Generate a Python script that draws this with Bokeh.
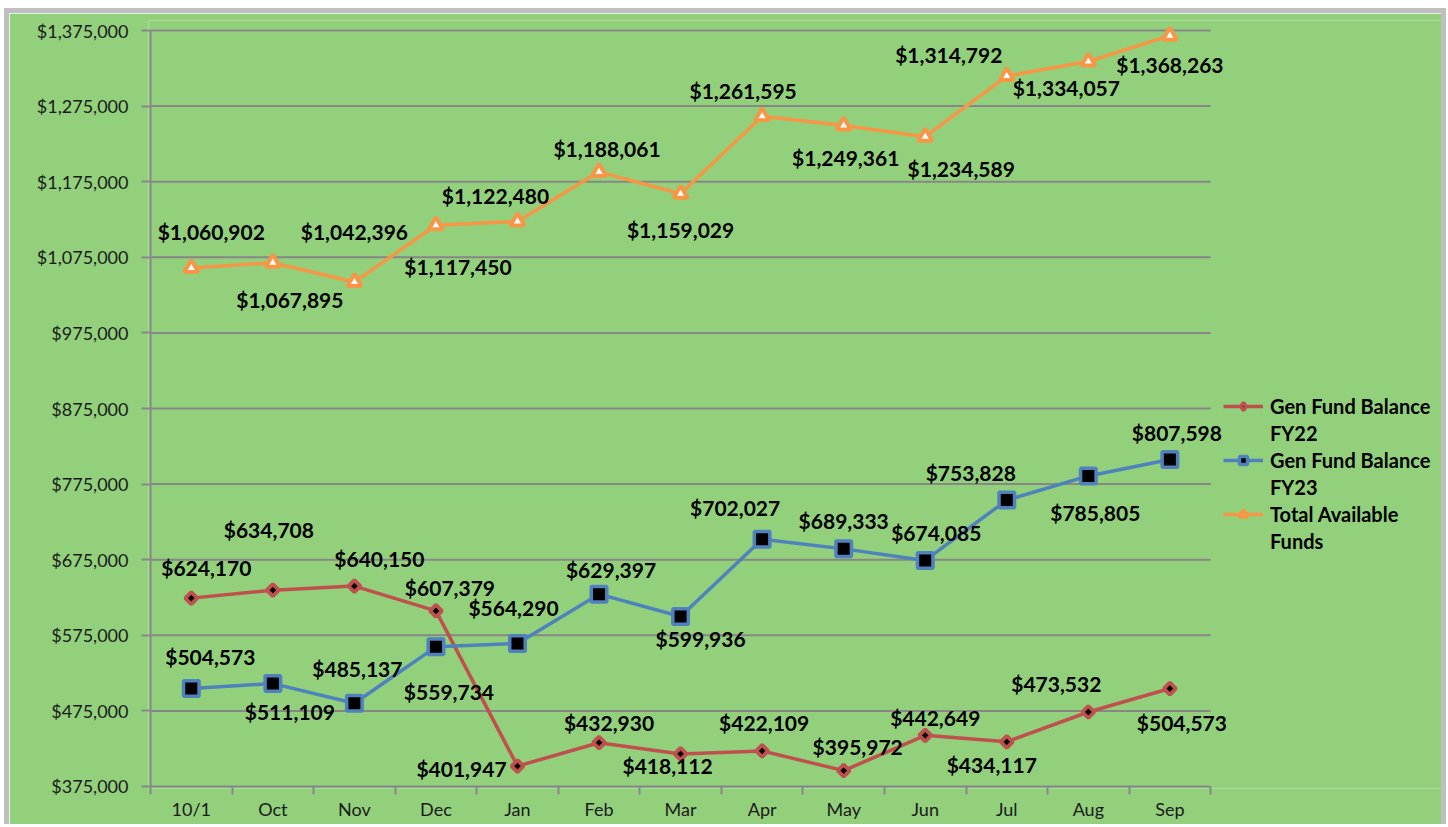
import math
from bokeh.plotting import figure
from bokeh.models import (ColumnDataSource, FixedTicker, NumeralTickFormatter, Legend,
                          LegendItem, Range1d, LabelSet)
from bokeh.core.properties import value
from bokeh.embed import file_html
from bokeh.resources import INLINE

# ---------------- data ----------------
months = ["10/1", "Oct", "Nov", "Dec", "Jan", "Feb", "Mar", "Apr", "May", "Jun", "Jul", "Aug", "Sep"]
fy22 = [624170, 634708, 640150, 607379, 401947, 432930, 418112, 422109, 395972, 442649, 434117, 473532, 504573]
fy23 = [504573, 511109, 485137, 559734, 564290, 629397, 599936, 702027, 689333, 674085, 753828, 785805, 807598]
total = [1060902, 1067895, 1042396, 1117450, 1122480, 1188061, 1159029, 1261595, 1249361, 1234589,
         1314792, 1334057, 1368263]
y_ticks = [375000, 475000, 575000, 675000, 775000, 875000, 975000, 1075000, 1175000, 1275000, 1375000]

# data-label placement (screen px, dy positive = downward)
fy22_dx = [15, -4, 25, 14, -56, 10, -13, 2, 14, 10, -15, -32, 12]
fy22_dy = [-31, -61, -28, -23, 2, -20, 12, -28, -24, -18, 23, -29, 34]
fy23_dx = [19, 17, 3, 13, -4, 12, 20, -27, 0, 11, -36, 7, 7]
fy23_dy = [-32, 28, -35, 45, -36, -25, 22, -32, -28, -28, -28, 37, -27]
tot_dx = [20, 17, 0, 22, -22, 8, 0, -19, 2, 36, -58, -22, 0]
tot_dy = [-36, 37, -50, 41, -26, -23, 36, -26, 32, 32, -22, 26, 29]

# ---------------- styles / layout ----------------
BG = "#92D07C"
GRID = "#878787"
RED = "#C0504D"
BLUE = "#4F81BD"
ORANGE = "#F79646"
FONT = "Lato"

FIG_W, FIG_H = 1442, 816          # size incl. 5px gray border
OFF_X, OFF_Y = 4, 8               # page offset of the chart
BORDER = 5
AX_L, AX_R = 150, 1202            # screen x of the category axis ends
AX_T, AX_B = 30, 784              # screen y of top / bottom ticks
PAD_L, PAD_T, PAD_B = 2, 10, 2    # frame slack around plotting box
CONTENT_L = OFF_X + BORDER
CONTENT_R = OFF_X + FIG_W - BORDER
CONTENT_T = OFF_Y + BORDER
CONTENT_B = 827

n = len(months)
xs = [i + 0.5 for i in range(n)]
bounds = [float(i) for i in range(n + 1)]

ppx = (AX_R - AX_L) / n
ppy = (AX_B - AX_T) / (y_ticks[-1] - y_ticks[0])
x_range = Range1d(-PAD_L / ppx, (CONTENT_R - AX_L) / ppx)
y_range = Range1d(y_ticks[0] - PAD_B / ppy, y_ticks[-1] + PAD_T / ppy)

frame_l = AX_L - PAD_L
frame_b = AX_B + PAD_B


def fmt(v):
    return "${:,}".format(v)


p = figure(width=FIG_W, height=FIG_H, output_backend="svg", toolbar_location=None,
           x_range=x_range, y_range=y_range,
           min_border_left=frame_l - CONTENT_L, min_border_right=0,
           min_border_top=(AX_T - PAD_T) - CONTENT_T, min_border_bottom=CONTENT_B - frame_b)
p.styles = {"border": "%dpx solid #BFBFBF" % BORDER, "border-bottom": "none",
            "margin-left": "%dpx" % OFF_X, "margin-top": "%dpx" % OFF_Y}
p.background_fill_color = BG
p.border_fill_color = BG
p.outline_line_color = None
p.grid.visible = False

# gridlines and axis lines limited to the category span
p.segment(x0=[0] * len(y_ticks), x1=[n] * len(y_ticks), y0=y_ticks, y1=y_ticks,
          line_color=GRID, line_width=2)
p.segment(x0=[0], x1=[0], y0=[y_ticks[0]], y1=[y_ticks[-1]], line_color=GRID, line_width=2)

p.yaxis.ticker = FixedTicker(ticks=y_ticks)
p.yaxis.formatter = NumeralTickFormatter(format="$0,0")
p.yaxis.axis_line_color = None
p.yaxis.major_tick_line_color = GRID
p.yaxis.major_tick_line_width = 2
p.yaxis.major_tick_out = 7
p.yaxis.major_tick_in = 2
p.yaxis.minor_tick_line_color = None
p.yaxis.major_label_standoff = 13
p.yaxis.major_label_text_font = FONT
p.yaxis.major_label_text_font_size = "18px"
p.yaxis.major_label_text_color = "#1a1a1a"

p.xaxis.ticker = FixedTicker(ticks=xs, minor_ticks=bounds)
p.xaxis.major_label_overrides = {x: m for x, m in zip(xs, months)}
p.xaxis.axis_line_color = None
p.xaxis.major_tick_line_color = None
p.xaxis.major_tick_out = 0
p.xaxis.major_tick_in = 0
p.xaxis.minor_tick_line_color = GRID
p.xaxis.minor_tick_line_width = 2
p.xaxis.minor_tick_out = 6
p.xaxis.minor_tick_in = 2
p.xaxis.major_label_standoff = 3
p.xaxis.major_label_text_font = FONT
p.xaxis.major_label_text_font_size = "18px"
p.xaxis.major_label_text_color = "#1a1a1a"


def series(vals, dx, dy, color, marker, size, fill, lw, angle=0.0):
    src = ColumnDataSource(dict(x=xs, y=vals, label=[fmt(v) for v in vals],
                                dx=dx, dy=[-d for d in dy]))
    lr = p.line("x", "y", source=src, line_color=color, line_width=3.5)
    sr = p.scatter("x", "y", source=src, marker=marker, size=size, fill_color=fill,
                   line_color=color, line_width=lw, angle=angle)
    labels = LabelSet(x="x", y="y", text="label", source=src, x_offset="dx", y_offset="dy",
                      text_align="center", text_baseline="middle",
                      text_font=value(FONT), text_font_style="bold",
                      text_font_size="21px", text_color="#000000")
    p.add_layout(labels)
    return lr, sr, src


r22 = series(fy22, fy22_dx, fy22_dy, RED, "square", 8.5, "#000000", 3.8, angle=math.pi / 4)
r23 = series(fy23, fy23_dx, fy23_dy, BLUE, "square", 15.5, "#000000", 3.5)
rtot = series(total, tot_dx, tot_dy, ORANGE, "triangle", 14, "#FFFFFF", 4)

dummy = p.line(x=[], y=[], line_alpha=0)
# legend swatch for the diamond marker (legend glyphs ignore marker rotation)
diamond_key = p.scatter("x", "y", source=r22[2], marker="diamond", size=16, fill_color="#000000",
                        line_color=RED, line_width=3.5, visible=False)

legend = Legend(items=[
    LegendItem(label="Gen Fund Balance", renderers=[r22[0], diamond_key]),
    LegendItem(label="FY22", renderers=[dummy]),
    LegendItem(label="Gen Fund Balance", renderers=[r23[0], r23[1]]),
    LegendItem(label="FY23", renderers=[dummy]),
    LegendItem(label="Total Available", renderers=[rtot[0], rtot[1]]),
    LegendItem(label="Funds", renderers=[dummy]),
], location=(1223 - frame_l, frame_b - 551))
legend.background_fill_alpha = 0
legend.border_line_color = None
legend.padding = 0
legend.margin = 0
legend.spacing = 2
legend.glyph_width = 40
legend.glyph_height = 20
legend.label_height = 25
legend.label_standoff = 7
legend.label_text_font = FONT
legend.label_text_font_style = "bold"
legend.label_text_font_size = "20px"
legend.label_text_color = "#000000"
legend.label_text_baseline = "middle"
p.add_layout(legend)

open("out.html", "w").write(file_html(p, INLINE))
